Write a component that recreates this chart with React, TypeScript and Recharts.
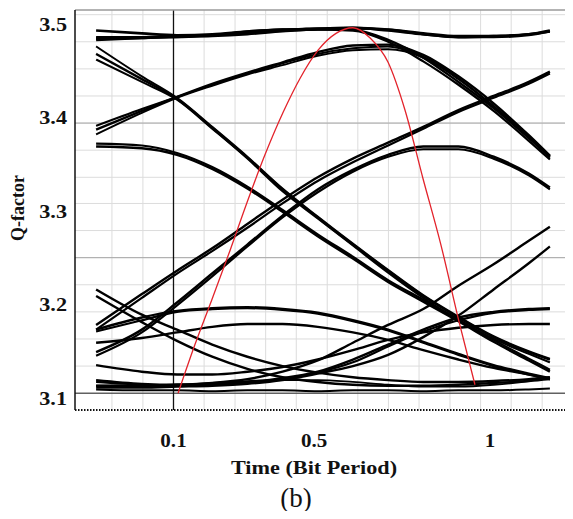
import React from 'react';
import { LineChart, Line, XAxis, YAxis, ReferenceLine, Label } from 'recharts';

// sampling instants of the analyzer traces (bit period)
const time = [-0.12, 0.01, 0.11, 0.21, 0.31, 0.41, 0.51, 0.61, 0.71, 0.81, 0.91, 1.01, 1.11, 1.17];

// black traces (Q-factor)
const topFlatA = [3.493, 3.49, 3.488, 3.489, 3.492, 3.494, 3.495, 3.496, 3.494, 3.49, 3.487, 3.487, 3.489, 3.493];
const topFlatB = [3.483, 3.485, 3.487, 3.488, 3.492, 3.494, 3.495, 3.496, 3.493, 3.489, 3.486, 3.487, 3.489, 3.492];
const topFlatC = [3.486, 3.486, 3.486, 3.488, 3.49, 3.493, 3.494, 3.495, 3.494, 3.489, 3.486, 3.486, 3.488, 3.492];
const topFallA = [3.485, 3.486, 3.487, 3.488, 3.49, 3.493, 3.495, 3.494, 3.483, 3.464, 3.438, 3.41, 3.378, 3.358];
const topFallB = [3.484, 3.485, 3.486, 3.487, 3.489, 3.492, 3.494, 3.493, 3.481, 3.46, 3.435, 3.407, 3.375, 3.355];
const archA = [3.387, 3.407, 3.422, 3.436, 3.448, 3.459, 3.47, 3.477, 3.478, 3.467, 3.444, 3.415, 3.381, 3.359];
const archB = [3.391, 3.409, 3.422, 3.435, 3.447, 3.458, 3.468, 3.474, 3.476, 3.465, 3.442, 3.412, 3.379, 3.357];
const archC = [3.382, 3.405, 3.421, 3.434, 3.446, 3.456, 3.466, 3.472, 3.473, 3.464, 3.441, 3.412, 3.38, 3.358];
const fallA = [3.468, 3.441, 3.42, 3.389, 3.357, 3.323, 3.293, 3.264, 3.236, 3.209, 3.186, 3.165, 3.149, 3.141];
const fallB = [3.476, 3.444, 3.421, 3.39, 3.358, 3.324, 3.294, 3.265, 3.237, 3.21, 3.187, 3.166, 3.15, 3.142];
const fallC = [3.462, 3.438, 3.419, 3.388, 3.356, 3.321, 3.292, 3.263, 3.234, 3.207, 3.183, 3.163, 3.147, 3.138];
const shoulderA = [3.369, 3.367, 3.36, 3.345, 3.324, 3.299, 3.273, 3.249, 3.224, 3.203, 3.182, 3.16, 3.14, 3.128];
const shoulderB = [3.372, 3.37, 3.362, 3.347, 3.326, 3.301, 3.275, 3.251, 3.226, 3.205, 3.184, 3.162, 3.142, 3.13];
const riseA = [3.178, 3.211, 3.236, 3.26, 3.286, 3.312, 3.336, 3.356, 3.373, 3.39, 3.408, 3.423, 3.438, 3.449];
const riseB = [3.173, 3.207, 3.233, 3.257, 3.282, 3.308, 3.332, 3.352, 3.37, 3.388, 3.406, 3.421, 3.436, 3.447];
const riseArchA = [3.149, 3.173, 3.202, 3.233, 3.264, 3.295, 3.323, 3.344, 3.36, 3.369, 3.369, 3.358, 3.34, 3.325];
const riseArchB = [3.145, 3.17, 3.199, 3.23, 3.262, 3.293, 3.32, 3.342, 3.358, 3.366, 3.366, 3.356, 3.338, 3.323];
const dropA = [3.216, 3.189, 3.173, 3.157, 3.144, 3.134, 3.127, 3.122, 3.119, 3.117, 3.117, 3.118, 3.12, 3.122];
const dropB = [3.209, 3.181, 3.161, 3.144, 3.131, 3.122, 3.117, 3.114, 3.113, 3.113, 3.114, 3.116, 3.118, 3.12];
const humpA = [3.173, 3.186, 3.193, 3.196, 3.197, 3.195, 3.191, 3.183, 3.173, 3.16, 3.147, 3.135, 3.126, 3.121];
const humpB = [3.171, 3.183, 3.192, 3.195, 3.196, 3.194, 3.19, 3.182, 3.172, 3.159, 3.146, 3.134, 3.125, 3.12];
const humpC = [3.159, 3.164, 3.17, 3.176, 3.179, 3.179, 3.176, 3.17, 3.162, 3.151, 3.141, 3.132, 3.125, 3.12];
const lateHumpA = [3.119, 3.115, 3.114, 3.115, 3.117, 3.121, 3.128, 3.141, 3.157, 3.173, 3.186, 3.192, 3.195, 3.196];
const lateHumpB = [3.117, 3.114, 3.113, 3.114, 3.116, 3.12, 3.127, 3.138, 3.155, 3.171, 3.183, 3.191, 3.194, 3.195];
const lateHumpC = [3.135, 3.128, 3.125, 3.125, 3.128, 3.133, 3.141, 3.151, 3.162, 3.17, 3.175, 3.178, 3.179, 3.179];
const lateRiseA = [3.113, 3.113, 3.114, 3.116, 3.12, 3.128, 3.14, 3.159, 3.178, 3.195, 3.22, 3.243, 3.268, 3.283];
const lateRiseB = [3.111, 3.111, 3.112, 3.113, 3.115, 3.119, 3.126, 3.134, 3.146, 3.165, 3.188, 3.216, 3.244, 3.262];
const floorA = [3.113, 3.113, 3.114, 3.116, 3.118, 3.119, 3.119, 3.117, 3.114, 3.112, 3.112, 3.114, 3.118, 3.122];
const floorB = [3.109, 3.108, 3.108, 3.107, 3.108, 3.108, 3.107, 3.108, 3.108, 3.107, 3.108, 3.108, 3.109, 3.11];

// red trace
const redTime = [0.113, 0.161, 0.209, 0.261, 0.309, 0.36, 0.411, 0.46, 0.511, 0.562, 0.61, 0.659, 0.71, 0.758, 0.809, 0.86, 0.912, 0.957];
const redQ = [3.105, 3.157, 3.205, 3.258, 3.309, 3.36, 3.405, 3.442, 3.472, 3.49, 3.496, 3.485, 3.459, 3.408, 3.335, 3.264, 3.181, 3.114];

// axes
const xTicks = [0.1, 0.5, 1];
const yTicks = [3.1, 3.2, 3.3, 3.4, 3.5];
const gridT = [-0.075, 0.013, 0.1, 0.187, 0.275, 0.362, 0.449, 0.537, 0.624, 0.711, 0.798, 0.886, 0.973, 1.06, 1.148];
const gridQ = [3.51, 3.481, 3.452, 3.423, 3.394, 3.365, 3.336, 3.308, 3.279, 3.25, 3.221, 3.192, 3.163, 3.134, 3.105];
const darkT = [0.1];
const darkQ = [3.105];
const midQ = [3.394, 3.25];

const traces: [string, number[], number][] = [
  ['topFlatA', topFlatA, 2.6], ['topFlatB', topFlatB, 2.6], ['topFlatC', topFlatC, 2.2],
  ['topFallA', topFallA, 2.4], ['topFallB', topFallB, 2.2],
  ['archA', archA, 2.4], ['archB', archB, 2], ['archC', archC, 2],
  ['fallA', fallA, 2.4], ['fallB', fallB, 2], ['fallC', fallC, 2],
  ['shoulderA', shoulderA, 2.4], ['shoulderB', shoulderB, 2.2],
  ['riseA', riseA, 2.4], ['riseB', riseB, 2.2],
  ['riseArchA', riseArchA, 2.4], ['riseArchB', riseArchB, 2.2],
  ['dropA', dropA, 2.4], ['dropB', dropB, 2.4],
  ['humpA', humpA, 2.4], ['humpB', humpB, 2.2], ['humpC', humpC, 2.4],
  ['lateHumpA', lateHumpA, 2.4], ['lateHumpB', lateHumpB, 2.2], ['lateHumpC', lateHumpC, 2.4],
  ['lateRiseA', lateRiseA, 2.4], ['lateRiseB', lateRiseB, 2.4],
  ['floorA', floorA, 1.8], ['floorB', floorB, 2],
];

const rows = time.map((t, i) => {
  const r: Record<string, number> = { t };
  traces.forEach(([k, arr]) => {
    r[k] = arr[i];
  });
  return r;
});
const redRows = redTime.map((t, i) => ({ t, q: redQ[i] }));

const FONT = "'Liberation Serif', 'Times New Roman', serif";

const YTick = (props: any) => {
  const { x, y, payload } = props;
  return (
    <text
      transform={`translate(${x} ${y}) scale(1.17 1)`}
      textAnchor="end"
      dy="0.35em"
      fontFamily={FONT}
      fontWeight="bold"
      fontSize={19}
      fill="#111"
    >
      {Number(payload.value).toFixed(1)}
    </text>
  );
};

const XTick = (props: any) => {
  const { x, y, payload } = props;
  return (
    <text
      transform={`translate(${x} ${y + 37}) scale(1.17 1)`}
      textAnchor="middle"
      fontFamily={FONT}
      fontWeight="bold"
      fontSize={18}
      fill="#111"
    >
      {String(payload.value)}
    </text>
  );
};

export default function App() {
  return (
    <div style={{ margin: -8, width: 573, height: 519, background: '#fff' }}>
      <LineChart
        width={573}
        height={519}
        data={rows}
        margin={{ top: 10, right: 2, left: 0, bottom: 0 }}
      >
        {gridT.map((v) => (
          <ReferenceLine key={'gt' + v} x={v} stroke="#dcdcdc" strokeWidth={1} />
        ))}
        {gridQ.map((v) => (
          <ReferenceLine key={'gq' + v} y={v} stroke="#dcdcdc" strokeWidth={1} />
        ))}
        {midQ.map((v) => (
          <ReferenceLine key={'mq' + v} y={v} stroke="#a8a8a8" strokeWidth={1} />
        ))}
        {darkQ.map((v) => (
          <ReferenceLine key={'dq' + v} y={v} stroke="#222" strokeWidth={1} />
        ))}
        {darkT.map((v) => (
          <ReferenceLine key={'dt' + v} x={v} stroke="#111" strokeWidth={1.3} />
        ))}
        <ReferenceLine y={3.515} stroke="#9a9a9a" strokeWidth={1.5} />
        <ReferenceLine x={1.23} stroke="#9a9a9a" strokeWidth={1.5} />
        <XAxis
          dataKey="t"
          type="number"
          domain={[-0.18, 1.23]}
          allowDataOverflow
          ticks={xTicks}
          interval={0}
          tickLine={false}
          tickSize={0}
          tickMargin={0}
          height={109}
          axisLine={{ stroke: '#111', strokeWidth: 2, strokeDasharray: '1.5 1.5' }}
          tick={XTick}
        >
          <Label
            content={() => (
              <g>
                <text
                  transform="translate(314 474) scale(1.17 1)"
                  textAnchor="middle"
                  fontFamily={FONT}
                  fontWeight="bold"
                  fontSize={19}
                  fill="#111"
                >
                  Time (Bit Period)
                </text>
                <text x={296} y={507} textAnchor="middle" fontFamily={FONT} fontSize={27} fill="#111">
                  (b)
                </text>
              </g>
            )}
          />
        </XAxis>
        <YAxis
          type="number"
          domain={[3.087, 3.515]}
          allowDataOverflow
          ticks={yTicks}
          interval={0}
          width={75}
          tickLine={false}
          tickSize={8}
          tickMargin={0}
          axisLine={{ stroke: '#111', strokeWidth: 1.5 }}
          tick={YTick}
        >
          <Label
            content={() => (
              <text
                transform="translate(24 208) rotate(-90)"
                textAnchor="middle"
                fontFamily={FONT}
                fontWeight="bold"
                fontSize={18}
                fill="#111"
              >
                Q-factor
              </text>
            )}
          />
        </YAxis>
        {traces.map(([k, , w]) => (
          <Line
            key={k}
            dataKey={k}
            type="monotone"
            stroke="#000"
            strokeWidth={w}
            dot={false}
            activeDot={false}
            isAnimationActive={false}
          />
        ))}
        <Line
          data={redRows}
          dataKey="q"
          type="monotone"
          stroke="#e3232b"
          strokeWidth={1.3}
          dot={false}
          activeDot={false}
          isAnimationActive={false}
        />
      </LineChart>
    </div>
  );
}
